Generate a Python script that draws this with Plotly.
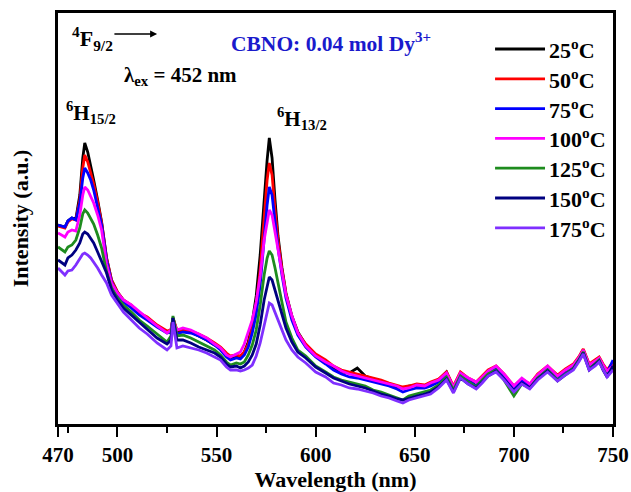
import plotly.graph_objects as go

# Emission wavelength grid (nm)
wavelength_nm = [
    470, 472, 473.5, 475, 477, 479, 481, 482.5, 483.5, 485,
    486.5, 488, 490, 492, 494.5, 497, 500, 503, 507, 511,
    515, 520, 525, 527, 528, 530, 533, 537, 541, 545,
    549, 552, 555, 557, 560, 562, 564, 566, 568, 570,
    572, 574, 575.5, 576.6, 578, 579.5, 581, 583, 585, 588,
    591, 595, 600, 605, 609, 613, 617, 621, 625, 629,
    633, 637, 641, 644, 647, 651, 655, 658, 662, 666,
    669.5, 673, 677, 681, 684, 687, 691, 695, 700, 704,
    708, 712, 717, 722, 726, 730, 733, 735, 738, 741,
    743, 745, 747, 750,
]

# Emission intensity (a.u.) at each temperature
intensity_25C = [
    199, 198, 197, 203, 206, 205, 229, 266, 281, 272,
    259, 244, 224, 202, 166, 144, 132, 124, 118, 110,
    106, 98, 92, 94, 106, 92, 94, 92, 88, 84,
    79, 76, 69, 66, 68, 67, 72, 82, 102, 128,
    169, 229, 264, 286, 266, 224, 188, 156, 131, 108,
    92, 79, 69, 62, 56, 52, 51, 56, 48, 45,
    42, 39, 37, 36, 38, 39, 38, 40, 44, 52,
    36, 50, 44, 38, 46, 52, 57, 49, 36, 44,
    38, 48, 57, 46, 52, 58, 67, 74, 59, 62,
    66, 58, 50, 59,
]
intensity_50C = [
    198, 197, 196, 202, 205, 204, 224, 256, 269, 262,
    252, 240, 222, 201, 166, 144, 132, 124, 119, 111,
    107, 99, 93, 94, 106, 94, 94, 93, 90, 86,
    81, 77, 71, 68, 69, 68, 72, 80, 96, 119,
    154, 209, 244, 261, 249, 214, 184, 154, 130, 107,
    91, 80, 70, 64, 58, 54, 52, 50, 48, 46,
    44, 41, 39, 37, 38, 40, 39, 42, 45, 52,
    38, 52, 46, 42, 48, 54, 58, 50, 38, 45,
    40, 50, 58, 49, 55, 60, 68, 75, 60, 64,
    67, 60, 54, 62,
]
intensity_75C = [
    199, 198, 197, 203, 206, 204, 221, 246, 256, 251,
    244, 234, 218, 199, 164, 142, 130, 122, 116, 109,
    104, 97, 91, 92, 105, 90, 92, 91, 88, 84,
    79, 74, 67, 64, 66, 65, 69, 77, 91, 110,
    139, 189, 219, 237, 229, 202, 176, 149, 126, 104,
    89, 77, 67, 60, 54, 50, 47, 46, 44, 42,
    40, 38, 35, 32, 34, 36, 36, 38, 42, 49,
    35, 49, 43, 38, 45, 51, 56, 48, 36, 43,
    37, 47, 56, 45, 51, 57, 66, 73, 57, 61,
    65, 57, 51, 64,
]
intensity_100C = [
    191, 189, 187, 192, 194, 193, 209, 229, 237, 234,
    228, 221, 209, 194, 160, 141, 131, 124, 119, 112,
    106, 98, 91, 94, 104, 94, 96, 94, 90, 86,
    80, 76, 69, 67, 70, 72, 80, 92, 104, 122,
    148, 184, 204, 214, 209, 192, 172, 149, 129, 108,
    91, 78, 68, 62, 58, 53, 50, 48, 46, 44,
    42, 40, 38, 35, 36, 39, 38, 41, 44, 51,
    37, 51, 46, 42, 47, 53, 58, 50, 38, 46,
    40, 49, 58, 48, 54, 59, 67, 74, 59, 63,
    66, 59, 53, 58,
]
intensity_125C = [
    177, 174, 172, 177, 179, 184, 196, 210, 214, 211,
    206, 200, 189, 176, 152, 136, 126, 119, 112, 104,
    98, 90, 82, 88, 108, 88, 89, 86, 82, 78,
    74, 69, 62, 59, 61, 60, 62, 69, 79, 94,
    119, 149, 166, 173, 169, 156, 141, 119, 102, 86,
    74, 68, 58, 52, 47, 44, 42, 40, 38, 34,
    32, 29, 26, 24, 28, 30, 32, 34, 39, 47,
    34, 48, 42, 37, 44, 50, 54, 44, 28, 40,
    36, 46, 54, 44, 50, 56, 65, 72, 55, 60,
    64, 55, 48, 56,
]
intensity_150C = [
    164, 161, 159, 166, 169, 174, 181, 190, 192, 190,
    186, 181, 172, 162, 151, 134, 124, 116, 109, 101,
    94, 86, 80, 84, 106, 84, 84, 81, 77, 74,
    71, 67, 60, 57, 58, 56, 58, 62, 69, 80,
    99, 124, 139, 147, 144, 134, 124, 109, 96, 82,
    72, 66, 57, 51, 46, 43, 40, 38, 36, 33,
    30, 28, 25, 24, 26, 28, 30, 32, 37, 45,
    32, 46, 40, 36, 42, 48, 53, 45, 33, 41,
    36, 45, 53, 43, 49, 55, 64, 71, 54, 59,
    63, 54, 47, 58,
]
intensity_175C = [
    156, 152, 149, 153, 154, 159, 166, 170, 171, 169,
    166, 162, 156, 149, 141, 129, 120, 112, 104, 96,
    90, 81, 74, 78, 102, 76, 78, 76, 74, 71,
    67, 64, 57, 54, 54, 53, 54, 56, 59, 68,
    81, 99, 114, 121, 119, 112, 104, 94, 84, 74,
    67, 61, 52, 47, 41, 39, 36, 35, 33, 31,
    28, 26, 23, 21, 24, 26, 28, 30, 36, 44,
    31, 46, 40, 35, 41, 48, 52, 44, 32, 40,
    35, 44, 52, 43, 49, 54, 63, 70, 54, 58,
    62, 54, 47, 54,
]

temperatures_C = [25, 50, 75, 100, 125, 150, 175]
series = [intensity_25C, intensity_50C, intensity_75C, intensity_100C,
          intensity_125C, intensity_150C, intensity_175C]
colors = ["#000000", "#FF0000", "#0000FF", "#FF00FF",
          "#1E8C1E", "#000080", "#7F2FFF"]

x_tick_vals = [470, 500, 550, 600, 650, 700, 750]
x_minor_vals = [475, 525, 575, 625, 675, 725]

FONT = "Liberation Serif"

fig = go.Figure()
for temp, color, values in zip(temperatures_C, colors, series):
    fig.add_trace(go.Scatter(
        x=wavelength_nm, y=values, mode="lines",
        name=f"{temp}°C",
        line=dict(color=color, width=2.8),
        showlegend=False,
    ))

# Legend: short colour bar followed by the temperature label
leg_x0, leg_x1, leg_text_x = 690.5, 715.7, 716.8
leg_top, leg_step = 375, 29.8
for i, (temp, color) in enumerate(zip(temperatures_C, colors)):
    yy = leg_top - i * leg_step
    fig.add_shape(type="line", xref="x", yref="y",
                  x0=leg_x0, x1=leg_x1, y0=yy, y1=yy,
                  line=dict(color=color, width=2.8))
    fig.add_annotation(x=leg_text_x, y=yy, xref="x", yref="y",
                       text=f"{temp}<sup>o</sup>C", showarrow=False,
                       xanchor="left", yanchor="middle",
                       font=dict(family=FONT, size=22, color="black", weight="bold"))

# Transition and excitation labels
def label(x, y, text, size=20, color="black"):
    fig.add_annotation(x=x, y=y, xref="x", yref="y", text=text,
                       showarrow=False, xanchor="center", yanchor="middle",
                       font=dict(family=FONT, size=size, color=color, weight="bold"))

label(487.2, 386, "<sup>4</sup>F<sub>9/2</sub>", size=22)
fig.add_annotation(x=520, y=390, ax=497.7, ay=390, xref="x", yref="y",
                   axref="x", ayref="y", text="", showarrow=True,
                   arrowhead=2, arrowsize=1, arrowwidth=1.4, arrowcolor="black")
label(531.8, 348, "λ<sub>ex</sub> = 452 nm", size=21)
label(486.4, 312, "<sup>6</sup>H<sub>15/2</sub>", size=21)
label(593.0, 306, "<sup>6</sup>H<sub>13/2</sub>", size=21)
label(607.7, 382, "CBNO: 0.04 mol Dy<sup>3+</sup>", size=21.5, color="#1A1ACC")

fig.update_layout(
    width=631, height=492,
    margin=dict(l=58, r=18, t=13, b=68),
    paper_bgcolor="white", plot_bgcolor="white",
    font=dict(family=FONT, size=20, color="black"),
    showlegend=False,
    xaxis=dict(
        range=[470, 750], tickvals=x_tick_vals, automargin=False,
        ticks="outside", ticklen=10, tickwidth=2, tickcolor="black",
        showline=True, linewidth=2.5, linecolor="black", mirror=True,
        showgrid=False, zeroline=False,
        tickfont=dict(family=FONT, size=21, weight="bold"),
        minor=dict(tickvals=x_minor_vals, ticks="outside", ticklen=6,
                   tickwidth=2, tickcolor="black", showgrid=False),
        title=dict(text="Wavelength (nm)", standoff=8,
                   font=dict(family=FONT, size=22, weight="bold")),
    ),
    yaxis=dict(
        range=[0, 411], showticklabels=False, ticks="", automargin=False,
        showline=True, linewidth=2.5, linecolor="black", mirror=True,
        showgrid=False, zeroline=False,
        title=dict(text="Intensity (a.u.)", standoff=21,
                   font=dict(family=FONT, size=22, weight="bold")),
    ),
)

fig.write_html("out.html")
